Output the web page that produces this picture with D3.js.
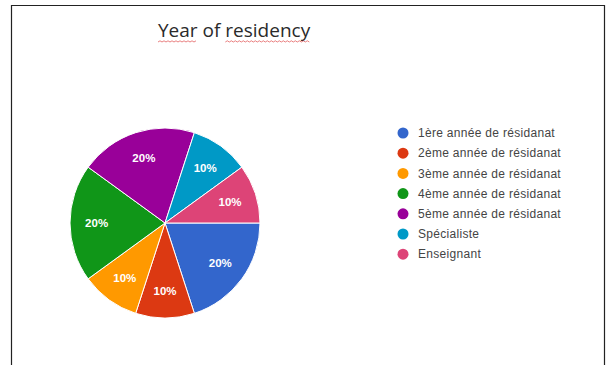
<!DOCTYPE html>
<html>
<head>
<meta charset="utf-8">
<script src="https://cdn.jsdelivr.net/npm/d3@7"></script>
<style>
  html, body { margin: 0; padding: 0; background: #fff; }
  svg { display: block; }
</style>
</head>
<body>
<svg id="chart" width="612" height="365"></svg>
<script>
// Share of respondents by year of residency
const categories = [
  "1ère année de résidanat",
  "2ème année de résidanat",
  "3ème année de résidanat",
  "4ème année de résidanat",
  "5ème année de résidanat",
  "Spécialiste",
  "Enseignant"
];
const shares = [20, 10, 10, 20, 20, 10, 10];
const colors = ["#3366cc", "#dc3912", "#ff9900", "#109618", "#990099", "#0099c6", "#dd4477"];
const title = "Year of residency";

const svg = d3.select("#chart");

// frame
svg.append("path")
  .attr("d", "M11.5,365 V5.5 H604.5 V365")
  .attr("fill", "none")
  .attr("stroke", "#222")
  .attr("stroke-width", 1.2);

// title with spell-check style squiggles
const titleText = svg.append("text")
  .attr("x", 158)
  .attr("y", 37)
  .attr("font-family", "'Open Sans', sans-serif")
  .attr("font-size", 19)
  .attr("font-weight", 500)
  .attr("fill", "#2a2a2a")
  .text(title);

function squiggle(x0, x1, y) {
  let d = `M${x0},${y}`;
  let up = true;
  for (let x = x0 + 2; x <= x1; x += 2) {
    d += ` L${x},${y + (up ? -1.2 : 0)}`;
    up = !up;
  }
  return d;
}
const bb = titleText.node().getBBox();
// underline "Year" and "residency"
const tnode = titleText.node();
const yearEnd = tnode.getSubStringLength(0, 4);
const resStart = tnode.getSubStringLength(0, 8);
svg.append("path")
  .attr("d", squiggle(bb.x, bb.x + yearEnd, 42) + " " + squiggle(bb.x + resStart, bb.x + bb.width, 42))
  .attr("fill", "none")
  .attr("stroke", "#e05050")
  .attr("stroke-width", 0.9)
  .attr("opacity", 0.8);

// pie
const cx = 165, cy = 223, r = 95;
const pie = d3.pie()
  .sort(null)
  .value(d => d)
  .startAngle(Math.PI / 2)
  .endAngle(Math.PI / 2 + 2 * Math.PI);
const arcs = pie(shares);
const arc = d3.arc().innerRadius(0).outerRadius(r);
const labelArc = d3.arc().innerRadius(r * 0.72).outerRadius(r * 0.72);

const g = svg.append("g").attr("transform", `translate(${cx},${cy})`);
g.selectAll("path.slice")
  .data(arcs)
  .join("path")
  .attr("class", "slice")
  .attr("d", arc)
  .attr("fill", (d, i) => colors[i])
  .attr("stroke", "#fff")
  .attr("stroke-width", 1);

g.selectAll("text.pct")
  .data(arcs)
  .join("text")
  .attr("class", "pct")
  .attr("transform", d => `translate(${labelArc.centroid(d)})`)
  .attr("text-anchor", "middle")
  .attr("dy", "0.35em")
  .attr("font-family", "'Liberation Sans', Arial, sans-serif")
  .attr("font-size", 11.5)
  .attr("font-weight", "bold")
  .attr("fill", "#fff")
  .text(d => d.data + "%");

// legend
const legend = svg.append("g").attr("transform", "translate(403,133)");
const rows = legend.selectAll("g")
  .data(categories)
  .join("g")
  .attr("transform", (d, i) => `translate(0,${i * 20.2})`);
rows.append("circle")
  .attr("r", 5.5)
  .attr("fill", (d, i) => colors[i]);
rows.append("text")
  .attr("x", 15)
  .attr("dy", "0.35em")
  .attr("font-family", "'Liberation Sans', Arial, sans-serif")
  .attr("font-size", 12)
  .attr("letter-spacing", 0.3)
  .attr("fill", "#444")
  .text(d => d);
</script>
</body>
</html>
